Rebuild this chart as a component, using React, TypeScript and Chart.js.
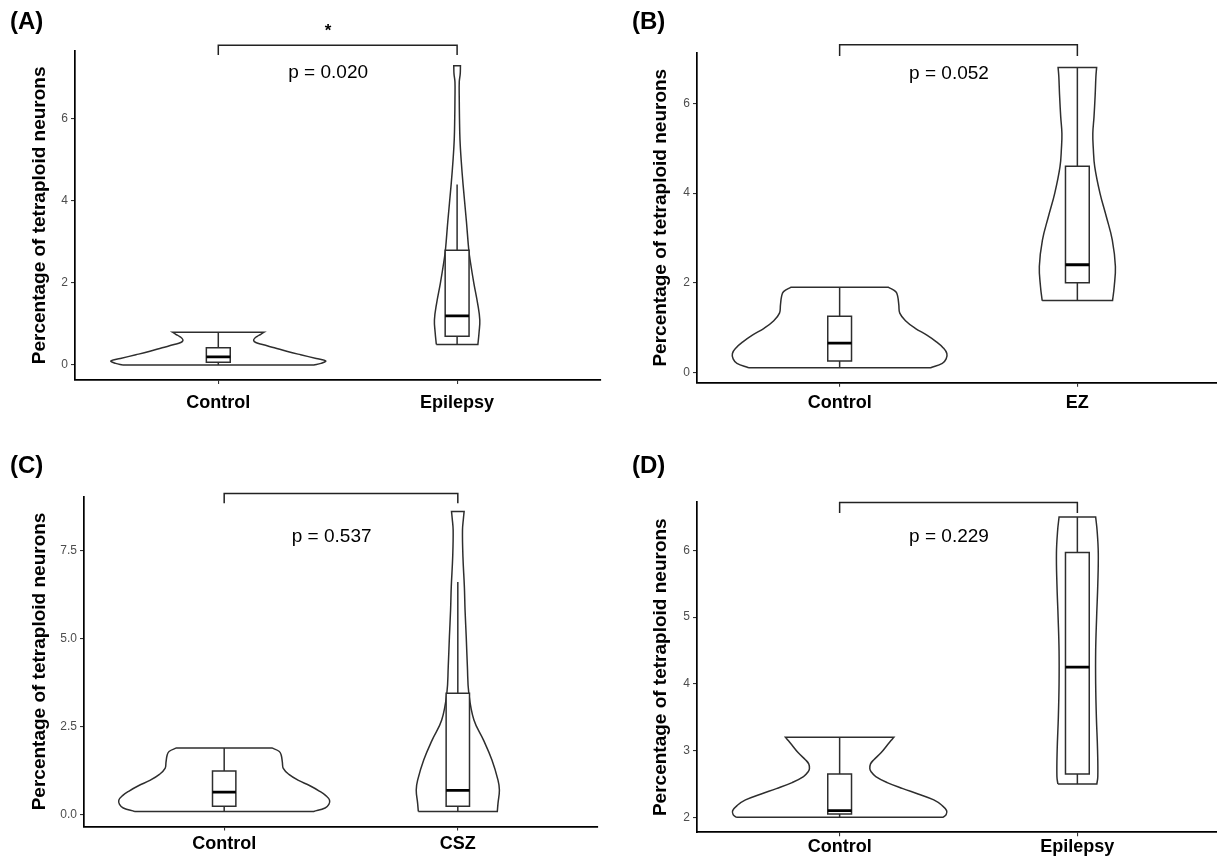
import React, { useEffect, useRef } from "react";
import { Chart, registerables } from "chart.js";

Chart.register(...registerables);

const FONT = "'Liberation Sans', Arial, Helvetica, sans-serif";
const Y_TITLE = "Percentage of tetraploid neurons";

// ---------------- Panel (A) ----------------
const categoriesA = ["Control", "Epilepsy"];
const yTicksA = [0, 2, 4, 6];
const yTickLabelsA = ["0", "2", "4", "6"];
const levelsA_Control = [0, 0.04, 0.1, 0.16, 0.25, 0.33, 0.42, 0.5, 0.55, 0.6, 0.65, 0.7, 0.75, 0.8];
const widthsA_Control = [0.4, 0.43, 0.45, 0.41, 0.345, 0.29, 0.235, 0.185, 0.157, 0.148, 0.152, 0.163, 0.178, 0.192];
const boxA_Control = [0, 0.065, 0.2, 0.42, 0.8]; // lower whisker, Q1, median, Q3, upper whisker
const levelsA_Epilepsy = [0.5, 0.8, 1.1, 1.5, 2.0, 2.5, 2.8, 3.5, 4.4, 5.0, 5.5, 6.0, 6.5, 6.9, 7.1, 7.3];
const widthsA_Epilepsy = [0.087, 0.092, 0.095, 0.086, 0.07, 0.056, 0.049, 0.039, 0.025, 0.017, 0.012, 0.01, 0.009, 0.009, 0.013, 0.014];
const boxA_Epilepsy = [0.5, 0.7, 1.2, 2.8, 4.4];
const bracketA = [7.56, 7.8]; // leg end, bar level
const pLabelA = "p = 0.020";
const pLevelA = 7.12;
const starLabelA = "*";
const starLevelA = 8.2;

// ---------------- Panel (B) ----------------
const categoriesB = ["Control", "EZ"];
const yTicksB = [0, 2, 4, 6];
const yTickLabelsB = ["0", "2", "4", "6"];
const levelsBC_Control = [0.1, 0.2, 0.3, 0.42, 0.55, 0.68, 0.83, 0.98, 1.15, 1.32, 1.5, 1.7, 1.8, 1.9];
const widthsBC_Control = [0.383, 0.432, 0.448, 0.451, 0.435, 0.407, 0.367, 0.318, 0.277, 0.253, 0.249, 0.244, 0.236, 0.204];
const boxBC_Control = [0.1, 0.25, 0.65, 1.25, 1.9];
const levelsB_EZ = [1.6, 1.91, 2.36, 2.95, 3.47, 4.0, 4.59, 5.0, 5.33, 5.7, 6.2, 6.6, 6.8];
const widthsB_EZ = [0.148, 0.155, 0.16, 0.147, 0.122, 0.095, 0.073, 0.067, 0.065, 0.07, 0.075, 0.078, 0.081];
const boxB_EZ = [1.6, 2.0, 2.4, 4.6, 6.8];
const bracketB = [7.06, 7.31];
const pLabelB = "p = 0.052";
const pLevelB = 6.66;

// ---------------- Panel (C) ----------------
const categoriesC = ["Control", "CSZ"];
const yTicksC = [0, 2.5, 5, 7.5];
const yTickLabelsC = ["0.0", "2.5", "5.0", "7.5"];
const levelsC_CSZ = [0.1, 0.33, 0.71, 0.99, 1.56, 2.12, 2.69, 3.45, 4.2, 5.05, 5.8, 6.47, 7.3, 8.07, 8.4, 8.6];
const widthsC_CSZ = [0.169, 0.172, 0.178, 0.172, 0.146, 0.11, 0.069, 0.047, 0.041, 0.036, 0.031, 0.028, 0.022, 0.02, 0.024, 0.027];
const boxC_CSZ = [0.1, 0.25, 0.7, 3.45, 6.6];
const bracketC = [8.83, 9.11];
const pLabelC = "p = 0.537";
const pLevelC = 7.88;

// ---------------- Panel (D) ----------------
const categoriesD = ["Control", "Epilepsy"];
const yTicksD = [2, 3, 4, 5, 6];
const yTickLabelsD = ["2", "3", "4", "5", "6"];
const levelsD_Control = [2.0, 2.04, 2.1, 2.18, 2.26, 2.35, 2.43, 2.52, 2.61, 2.68, 2.73, 2.8, 2.86, 2.97, 3.08, 3.15, 3.2];
const widthsD_Control = [0.435, 0.448, 0.45, 0.43, 0.396, 0.33, 0.266, 0.2, 0.152, 0.133, 0.127, 0.13, 0.143, 0.175, 0.2, 0.216, 0.228];
const boxD_Control = [2.0, 2.05, 2.1, 2.65, 3.2];
const levelsD_Epilepsy = [2.5, 2.61, 3.0, 3.5, 4.0, 4.5, 5.0, 5.5, 5.96, 6.3, 6.5];
const widthsD_Epilepsy = [0.082, 0.086, 0.085, 0.08, 0.077, 0.077, 0.081, 0.086, 0.088, 0.083, 0.077];
const boxD_Epilepsy = [2.5, 2.65, 4.25, 5.97, 6.5];
const bracketD = [6.56, 6.72];
const pLabelD = "p = 0.229";
const pLevelD = 6.21;

const pPositionX = 1.46; // category-axis position of the p-value label

type Violin = { levels: number[]; widths: number[]; box: number[] };
type Layout = {
  frame: { left: number; top: number; width: number; height: number };
  area: { left: number; top: number; right: number; bottom: number };
  titleX: number;
  labelPad: number;
  letterPos: [number, number];
};
type PanelSpec = {
  letter: string;
  categories: string[];
  violins: Violin[];
  yTicks: number[];
  yTickLabels: string[];
  bracket: number[];
  pLabel: string;
  pLevel: number;
  star?: string;
  starLevel?: number;
  layout: Layout;
};

const panels: PanelSpec[] = [
  {
    letter: "(A)",
    categories: categoriesA,
    violins: [
      { levels: levelsA_Control, widths: widthsA_Control, box: boxA_Control },
      { levels: levelsA_Epilepsy, widths: widthsA_Epilepsy, box: boxA_Epilepsy },
    ],
    yTicks: yTicksA,
    yTickLabels: yTickLabelsA,
    bracket: bracketA,
    pLabel: pLabelA,
    pLevel: pLevelA,
    star: starLabelA,
    starLevel: starLevelA,
    layout: {
      frame: { left: 0, top: 0, width: 608, height: 425 },
      area: { left: 75, top: 50.7, right: 600.4, bottom: 380 },
      titleX: 39.5,
      labelPad: 8,
      letterPos: [10, 22.5],
    },
  },
  {
    letter: "(B)",
    categories: categoriesB,
    violins: [
      { levels: levelsBC_Control, widths: widthsBC_Control, box: boxBC_Control },
      { levels: levelsB_EZ, widths: widthsB_EZ, box: boxB_EZ },
    ],
    yTicks: yTicksB,
    yTickLabels: yTickLabelsB,
    bracket: bracketB,
    pLabel: pLabelB,
    pLevel: pLevelB,
    layout: {
      frame: { left: 608, top: 0, width: 620, height: 425 },
      area: { left: 697, top: 52.6, right: 1220, bottom: 382.8 },
      titleX: 660.8,
      labelPad: 5,
      letterPos: [632, 22.5],
    },
  },
  {
    letter: "(C)",
    categories: categoriesC,
    violins: [
      { levels: levelsBC_Control, widths: widthsBC_Control, box: boxBC_Control },
      { levels: levelsC_CSZ, widths: widthsC_CSZ, box: boxC_CSZ },
    ],
    yTicks: yTicksC,
    yTickLabels: yTickLabelsC,
    bracket: bracketC,
    pLabel: pLabelC,
    pLevel: pLevelC,
    layout: {
      frame: { left: 0, top: 425, width: 608, height: 431 },
      area: { left: 84, top: 496.4, right: 598, bottom: 826.5 },
      titleX: 40,
      labelPad: 2.5,
      letterPos: [10, 466.7],
    },
  },
  {
    letter: "(D)",
    categories: categoriesD,
    violins: [
      { levels: levelsD_Control, widths: widthsD_Control, box: boxD_Control },
      { levels: levelsD_Epilepsy, widths: widthsD_Epilepsy, box: boxD_Epilepsy },
    ],
    yTicks: yTicksD,
    yTickLabels: yTickLabelsD,
    bracket: bracketD,
    pLabel: pLabelD,
    pLevel: pLevelD,
    layout: {
      frame: { left: 608, top: 425, width: 620, height: 431 },
      area: { left: 697, top: 502.1, right: 1220, bottom: 832.3 },
      titleX: 660.8,
      labelPad: 0,
      letterPos: [632, 466.7],
    },
  },
];

const LINE = "#2e2e2e";
const LINE_W = 1.5;
const BOX_HALF = 0.05;

const annotPlugin = {
  id: "annot",
  afterDraw(chart: any, _args: any, opts: any) {
    const { ctx } = chart;
    const x = chart.scales.x;
    const y = chart.scales.y;
    ctx.save();
    ctx.fillStyle = "#000";
    ctx.textAlign = "center";
    ctx.textBaseline = "middle";
    ctx.font = `19px ${FONT}`;
    ctx.fillText(opts.pLabel, x.getPixelForValue(opts.pX), y.getPixelForValue(opts.pLevel));
    if (opts.star) {
      ctx.font = `bold 17px ${FONT}`;
      ctx.fillText(opts.star, x.getPixelForValue(opts.pX), y.getPixelForValue(opts.starLevel) + 3);
    }
    ctx.textAlign = "left";
    ctx.font = `bold 24px ${FONT}`;
    ctx.fillText(opts.letter, opts.letterX, opts.letterY);
    ctx.restore();
  },
};

function lineDs(data: any[], extra: any = {}) {
  return {
    type: "line",
    data,
    borderColor: LINE,
    borderWidth: LINE_W,
    pointRadius: 0,
    pointHoverRadius: 0,
    fill: false,
    tension: 0,
    ...extra,
  };
}

function buildConfig(spec: PanelSpec): any {
  const { frame, area } = spec.layout;
  const all = spec.violins.flatMap((v) => v.levels);
  const lo = Math.min(...all);
  const hi = Math.max(...all);
  const expand = (hi - lo) * 0.05;

  const datasets: any[] = [];
  spec.violins.forEach((v, i) => {
    const c = i + 1;
    const n = v.levels.length;
    const left = v.levels.map((yv, k) => ({ x: c - v.widths[k], y: yv }));
    const right = v.levels.map((yv, k) => ({ x: c + v.widths[k], y: yv })).reverse();
    const outline = [
      { ...left[0] },
      ...left.map((p) => ({ ...p })),
      { ...left[n - 1] },
      { ...right[0] },
      ...right.map((p) => ({ ...p })),
      { ...right[n - 1] },
      { ...left[0] },
      { ...left[0] },
    ];
    datasets.push(lineDs(outline, { tension: 0.4, order: 5 }));

    const [wl, q1, md, q3, wh] = v.box;
    datasets.push(lineDs([{ x: c, y: q3 }, { x: c, y: wh }], { order: 4 }));
    datasets.push(lineDs([{ x: c, y: wl }, { x: c, y: q1 }], { order: 4 }));
    datasets.push(
      lineDs(
        [
          { x: c - BOX_HALF, y: q1 },
          { x: c - BOX_HALF, y: q3 },
          { x: c + BOX_HALF, y: q3 },
          { x: c + BOX_HALF, y: q1 },
          { x: c - BOX_HALF, y: q1 },
        ],
        { order: 3, fill: "shape", backgroundColor: "#ffffff", borderCapStyle: "square" }
      )
    );
    datasets.push(
      lineDs(
        [
          { x: c - BOX_HALF, y: md },
          { x: c + BOX_HALF, y: md },
        ],
        { order: 1, borderWidth: 2.8, borderColor: "#000" }
      )
    );
  });

  const b = spec.bracket;
  datasets.push(
    lineDs(
      [
        { x: 1, y: b[0] },
        { x: 1, y: b[1] },
        { x: 2, y: b[1] },
        { x: 2, y: b[0] },
      ],
      { clip: false, borderColor: "#222", order: 0 }
    )
  );

  const grid = {
    display: true,
    drawOnChartArea: false,
    drawTicks: true,
    tickLength: 4,
    color: "#333333",
    lineWidth: 1.1,
  };
  const border = { display: true, color: "#000", width: 1.7 };

  return {
    type: "line",
    data: { datasets },
    plugins: [annotPlugin],
    options: {
      responsive: false,
      animation: false,
      devicePixelRatio: 1,
      events: [],
      layout: {
        padding: {
          left: 0,
          top: area.top - frame.top,
          right: frame.left + frame.width - area.right,
          bottom: 0,
        },
      },
      plugins: {
        legend: { display: false },
        tooltip: { enabled: false },
        annot: {
          pLabel: spec.pLabel,
          pLevel: spec.pLevel,
          pX: pPositionX,
          star: spec.star,
          starLevel: spec.starLevel,
          letter: spec.letter,
          letterX: spec.layout.letterPos[0] - frame.left,
          letterY: spec.layout.letterPos[1] - frame.top,
        },
      },
      scales: {
        x: {
          type: "linear",
          min: 0.4,
          max: 2.6,
          bounds: "data",
          afterBuildTicks: (s: any) => {
            s.ticks = spec.categories.map((_, i) => ({ value: i + 1 }));
          },
          afterFit: (s: any) => {
            s.height = frame.top + frame.height - area.bottom;
          },
          ticks: {
            autoSkip: false,
            maxRotation: 0,
            callback: (_v: any, i: number) => spec.categories[i],
            font: { family: FONT, size: 18, weight: "bold" },
            color: "#000",
            padding: spec.layout.labelPad,
          },
          grid,
          border,
        },
        y: {
          type: "linear",
          min: lo - expand,
          max: hi + expand,
          bounds: "data",
          afterBuildTicks: (s: any) => {
            s.ticks = spec.yTicks.map((v) => ({ value: v }));
          },
          afterFit: (s: any) => {
            s.width = area.left - frame.left;
          },
          ticks: {
            autoSkip: false,
            callback: (_v: any, i: number) => spec.yTickLabels[i],
            font: { family: FONT, size: 12 },
            color: "#4d4d4d",
            padding: 3,
          },
          grid,
          border,
          title: {
            display: true,
            text: Y_TITLE,
            color: "#000",
            font: { family: FONT, size: 19, weight: "bold", lineHeight: 1.2 },
            padding: { top: spec.layout.titleX - frame.left - 11.4, bottom: 0 },
          },
        },
      },
    },
  };
}

function Panel({ spec }: { spec: PanelSpec }) {
  const ref = useRef<HTMLCanvasElement | null>(null);
  useEffect(() => {
    if (!ref.current) return;
    const chart = new Chart(ref.current, buildConfig(spec));
    return () => chart.destroy();
  }, [spec]);
  const f = spec.layout.frame;
  return (
    <canvas
      ref={ref}
      width={f.width}
      height={f.height}
      style={{ position: "absolute", left: f.left, top: f.top, width: f.width, height: f.height }}
    />
  );
}

export default function App() {
  return (
    <div
      style={{
        position: "fixed",
        left: 0,
        top: 0,
        width: 1217,
        height: 856,
        overflow: "hidden",
        background: "#ffffff",
      }}
    >
      {panels.map((p) => (
        <Panel key={p.letter} spec={p} />
      ))}
    </div>
  );
}
